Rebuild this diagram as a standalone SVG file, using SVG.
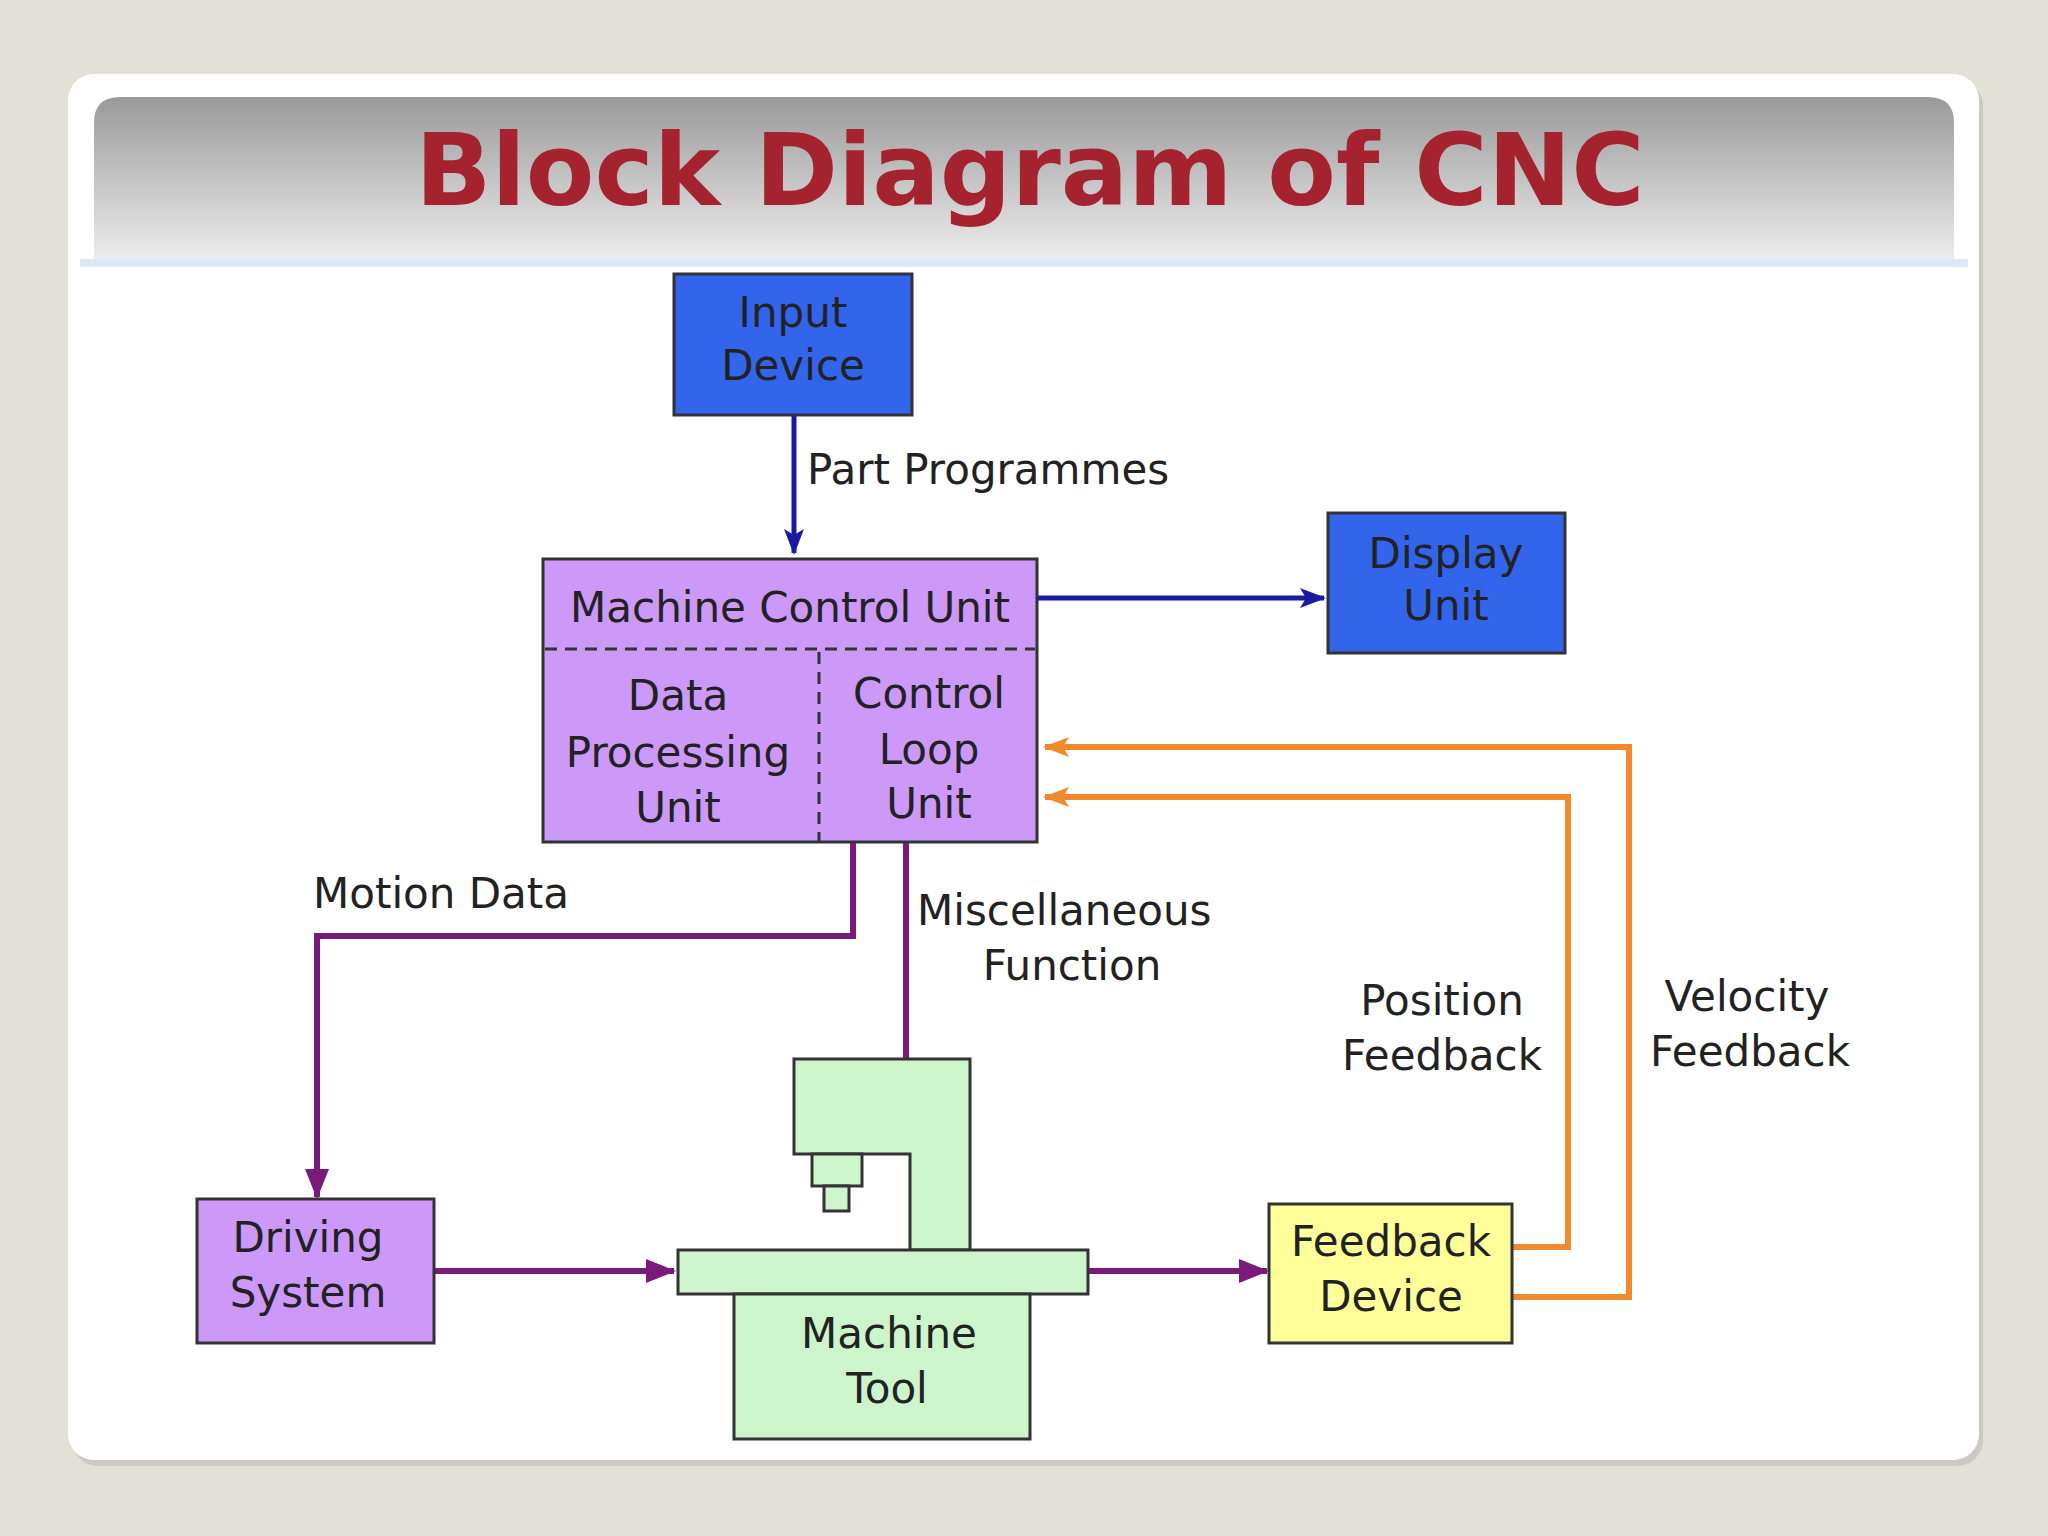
<svg xmlns="http://www.w3.org/2000/svg" width="2048" height="1536" viewBox="0 0 2048 1536">
<defs>
<linearGradient id="tb" x1="0" y1="0" x2="0" y2="1"><stop offset="0" stop-color="#9a9a9a"/><stop offset="1" stop-color="#ececec"/></linearGradient>
<marker id="ap" markerWidth="30" markerHeight="30" refX="28" refY="15" orient="auto" markerUnits="userSpaceOnUse"><path d="M0,3 L30,15 L0,27 z" fill="#7a1a7a"/></marker>
<marker id="ao" markerWidth="26" markerHeight="26" refX="24" refY="13" orient="auto" markerUnits="userSpaceOnUse"><path d="M0,3 L26,13 L0,23 L6,13 z" fill="#f08a2a"/></marker>
<marker id="ab2" markerWidth="26" markerHeight="26" refX="24" refY="13" orient="auto" markerUnits="userSpaceOnUse"><path d="M0,3 L26,13 L0,23 L6,13 z" fill="#1a1aa0"/></marker>
</defs>
<style>
.t{font-family:"DejaVu Sans",Verdana,sans-serif;font-size:42px;fill:#222;text-anchor:middle}
.l{font-family:"DejaVu Sans",Verdana,sans-serif;font-size:42px;fill:#222}
.box{stroke:#333;stroke-width:3}
.blue{fill:#3264ec}
.pur{fill:#cc99f8}
.grn{fill:#ccf5cc}
.ylw{fill:#ffff99}
.cb{fill:none;stroke:#1a1aa0;stroke-width:5}
.cp{fill:none;stroke:#7a1a7a;stroke-width:6}
.co{fill:none;stroke:#f08a2a;stroke-width:6}
</style>
<rect width="2048" height="1536" fill="#e3e1d5"/>
<rect x="72" y="80" width="1911" height="1386" rx="26" fill="#bbb" opacity="0.6"/>
<rect x="68" y="74" width="1911" height="1386" rx="26" fill="#fff"/>
<path d="M120,97 H1928 Q1954,97 1954,123 V259 H94 V123 Q94,97 120,97 z" fill="url(#tb)"/>
<rect x="80" y="259" width="1888" height="8" fill="#dbe8f5"/>
<text x="1030" y="205" style="font-family:'DejaVu Sans',Verdana,sans-serif;font-weight:bold;font-size:100px;fill:#a5232f;text-anchor:middle">Block Diagram of CNC</text>

<g id="connectors">
<path class="cb" d="M794,415 V553" marker-end="url(#ab2)"/>
<path class="cb" d="M1037,598 H1324" marker-end="url(#ab2)"/>
<path class="co" d="M1512,1297 H1629 V747 H1045" marker-end="url(#ao)"/>
<path class="co" d="M1512,1247 H1568 V797 H1045" marker-end="url(#ao)"/>
<path class="cp" d="M853,842 V936 H317 V1197" marker-end="url(#ap)"/>
<path class="cp" d="M906,842 V1059"/>
<path class="cp" d="M434,1271 H674" marker-end="url(#ap)"/>
<path class="cp" d="M1088,1271 H1267" marker-end="url(#ap)"/>
<text class="l" x="807" y="484">Part Programmes</text>
<text class="l" x="313" y="908">Motion Data</text>
<text class="l" x="917" y="925">Miscellaneous</text>
<text class="t" x="1072" y="980">Function</text>
<text class="t" x="1442" y="1015">Position</text>
<text class="t" x="1442" y="1070">Feedback</text>
<text class="t" x="1747" y="1011">Velocity</text>
<text class="t" x="1750" y="1066">Feedback</text>
</g>

<g id="input-device">
<rect class="box blue" x="674" y="274" width="238" height="141"/>
<text class="t" x="793" y="327">Input</text>
<text class="t" x="793" y="380">Device</text>
</g>
<g id="display-unit">
<rect class="box blue" x="1328" y="513" width="237" height="140"/>
<text class="t" x="1446" y="568">Display</text>
<text class="t" x="1446" y="620">Unit</text>
</g>
<g id="mcu">
<rect class="box pur" x="543" y="559" width="494" height="283"/>
<path d="M545,649 H1035 M819,652 V842" stroke="#333" stroke-width="3" stroke-dasharray="12,8" fill="none"/>
<text class="t" x="790" y="622">Machine Control Unit</text>
<text class="t" x="678" y="710">Data</text>
<text class="t" x="678" y="767">Processing</text>
<text class="t" x="678" y="822">Unit</text>
<text class="t" x="929" y="708">Control</text>
<text class="t" x="929" y="764">Loop</text>
<text class="t" x="929" y="818">Unit</text>
</g>
<g id="driving-system">
<rect class="box pur" x="197" y="1199" width="237" height="144"/>
<text class="t" x="308" y="1252">Driving</text>
<text class="t" x="308" y="1307">System</text>
</g>
<g id="machine-tool">
<path class="box grn" d="M794,1059 H970 V1250 H910 V1154 H794 z"/>
<rect class="box grn" x="812" y="1154" width="50" height="32"/>
<rect class="box grn" x="824" y="1186" width="25" height="25"/>
<rect class="box grn" x="678" y="1250" width="410" height="44"/>
<rect class="box grn" x="734" y="1294" width="296" height="145"/>
<text class="t" x="889" y="1348">Machine</text>
<text class="t" x="887" y="1403">Tool</text>
</g>
<g id="feedback-device">
<rect class="box ylw" x="1269" y="1204" width="243" height="139"/>
<text class="t" x="1391" y="1256">Feedback</text>
<text class="t" x="1391" y="1311">Device</text>
</g>
</svg>
